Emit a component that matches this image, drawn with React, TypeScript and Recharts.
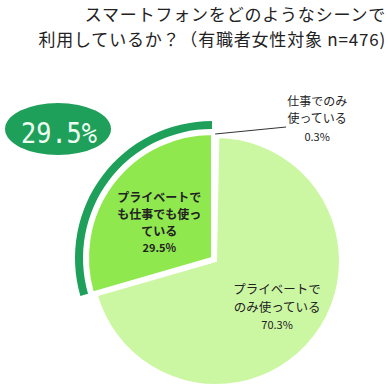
import { PieChart, Pie, Cell } from "recharts";

const names = ["仕事でのみ使っている", "プライベートでのみ使っている", "プライベートでも仕事でも使っている"];
const values = [0.3, 70.3, 29.5];
const labelLines = [
  ["仕事でのみ", "使っている"],
  ["プライベートで", "のみ使っている"],
  ["プライベートで", "も仕事でも使っ", "ている"],
];
const titleLines = ["スマートフォンをどのようなシーンで", "利用しているか？（有職者女性対象 n=476)"];
const highlight = "29.5%";

const data = names.map((name, i) => ({ name, value: values[i] }));

const FONT = "'Noto Sans CJK JP', sans-serif";
const BASE = ["#eefbe0", "#ccf7a2", "none"];
const POP = ["none", "none", "#90e84f"];
const RING = ["none", "none", "#1ea05a"];
const RAD = Math.PI / 180;

const renderLabel = (show: number[]) => (props: any) => {
  const { cx, cy, midAngle, outerRadius, index } = props;
  if (!show.includes(index)) return null;
  const lines = labelLines[index];
  const pct = `${values[index]}%`;
  if (index === 0) {
    const sx = cx + outerRadius * Math.cos(-midAngle * RAD) - 2;
    const sy = cy + outerRadius * Math.sin(-midAngle * RAD) - 3;
    const tx = sx + 102;
    return (
      <g>
        <line x1={sx} y1={sy} x2={sx + 71} y2={sy - 7} stroke="#333" strokeWidth={1} />
        {lines.map((l, i) => (
          <text key={i} x={tx} y={sy - 28 + i * 17} textAnchor="middle" fontSize={12} fill="#222" fontFamily={FONT}>
            {l}
          </text>
        ))}
        <text x={tx} y={sy - 28 + 2 * 17 + 1} textAnchor="middle" fontSize={11} fill="#222" fontFamily={FONT}>
          {pct}
        </text>
      </g>
    );
  }
  const r = index === 1 ? 77 : 66;
  const x = cx + r * Math.cos(-midAngle * RAD);
  const y = cy + r * Math.sin(-midAngle * RAD);
  const bold = index === 2;
  const lh = bold ? 17 : 18;
  const n = lines.length + 1;
  const top = y - ((n - 1) * lh) / 2 + (bold ? 9 : 4);
  return (
    <g>
      {lines.map((l, i) => (
        <text key={i} x={x} y={top + i * lh} textAnchor="middle" fontSize={bold ? 12 : 12.5} fontWeight={bold ? 700 : 400} fill="#222" fontFamily={FONT}>
          {l}
        </text>
      ))}
      <text x={x} y={top + lines.length * lh - 1} textAnchor="middle" fontSize={11} fontWeight={bold ? 700 : 400} fill="#222" fontFamily={FONT}>
        {pct}
      </text>
    </g>
  );
};

export default function App() {
  return (
    <div style={{ position: "fixed", left: 0, top: 0, width: 388, height: 389, background: "#fff", fontFamily: FONT }}>
      <div style={{ position: "absolute", right: 2, top: 2, textAlign: "right", fontSize: 17, lineHeight: "24.6px", letterSpacing: "0.8px", color: "#222" }}>
        {titleLines.map((t) => (
          <div key={t}>{t}</div>
        ))}
      </div>
      <div style={{ position: "absolute", left: 5, top: 103, width: 106, height: 52, borderRadius: "50%", background: "#1ea05a" }}>
        <svg width={106} height={52} style={{ display: "block" }}>
          <text x={54} y={40} textAnchor="middle" fontSize={29} fill="#eefff2" fontFamily="'DejaVu Sans Mono', monospace" textLength={76} lengthAdjust="spacingAndGlyphs">
            {highlight}
          </text>
        </svg>
      </div>
      <div style={{ position: "absolute", left: 0, top: 0 }}>
        <PieChart width={388} height={389}>
          <Pie data={data} dataKey="value" cx={211} cy={256} outerRadius={124} startAngle={90} endAngle={-270} isAnimationActive={false} labelLine={false} label={renderLabel([0, 1])}>
            {data.map((_, i) => (
              <Cell key={i} fill={BASE[i]} stroke={BASE[i] === "none" ? "none" : "#fff"} strokeWidth={2} />
            ))}
          </Pie>
          <Pie data={data} dataKey="value" cx={207} cy={253} outerRadius={124} startAngle={90} endAngle={-270} isAnimationActive={false} labelLine={false} label={renderLabel([2])}>
            {data.map((_, i) => (
              <Cell key={i} fill={POP[i]} stroke={POP[i] === "none" ? "none" : "#fff"} strokeWidth={2} />
            ))}
          </Pie>
          <Pie data={data} dataKey="value" cx={207} cy={253} innerRadius={129} outerRadius={137} startAngle={90} endAngle={-270} isAnimationActive={false} labelLine={false}>
            {data.map((_, i) => (
              <Cell key={i} fill={RING[i]} stroke="none" />
            ))}
          </Pie>
        </PieChart>
      </div>
    </div>
  );
}
